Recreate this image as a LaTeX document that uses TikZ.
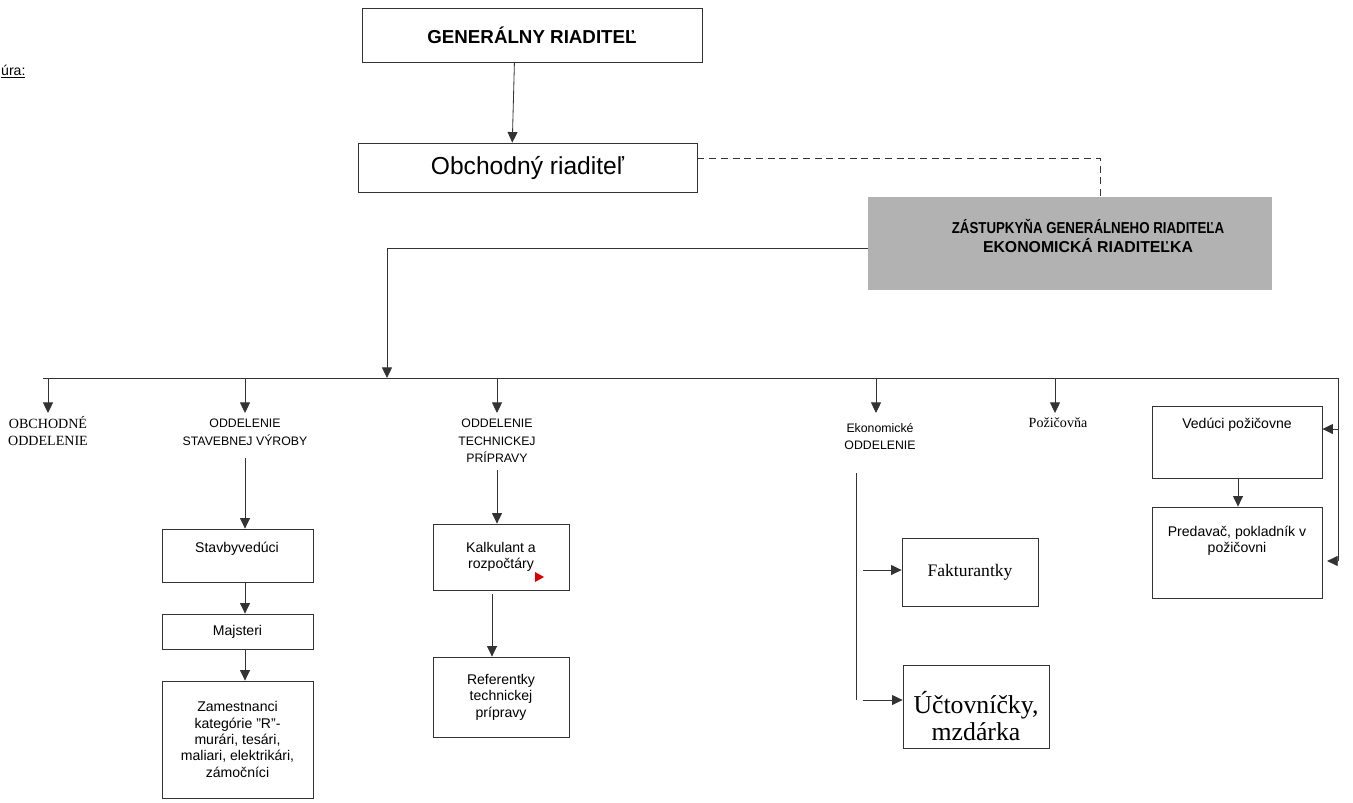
\documentclass[tikz,border=0pt]{standalone}
\usepackage{graphicx}
\usepackage{fontspec}
\setmainfont{Liberation Serif}
\setsansfont{Liberation Sans}
\usetikzlibrary{arrows.meta}

\begin{document}
\begin{tikzpicture}[x=0.03cm, y=-0.03cm,
  line/.style={draw=black!80, line width=0.7pt},
  arr/.style={line, -{Triangle[length=9pt,width=8.5pt]}},
  box/.style 2 args={draw=black!80, line width=0.7pt, inner sep=0pt, align=center,
    minimum width=#1*0.03cm, minimum height=#2*0.03cm,
    font=\sffamily\fontsize{12}{14}\selectfont},
  txt/.style={inner sep=0pt, align=center, font=\sffamily\fontsize{12}{14}\selectfont},
  dept/.style={anchor=north, inner sep=0pt, align=center,
    font=\sffamily\fontsize{10.5}{15}\selectfont},
  ]
  \useasboundingbox (0,0) rectangle (1353,802);
  \node[anchor=west, inner sep=0pt, font=\sffamily\fontsize{12}{14}\selectfont] (nadpis) at (1,72) {\underline{úra:}};

  % vedenie
  \node[box={340}{54}, font=\sffamily\bfseries\fontsize{16}{18}\selectfont] (gr) at (532,35) {GENERÁLNY RIADITEĽ};
  \node[box={339}{49}, font=\sffamily\fontsize{21}{24}\selectfont] (or) at (527.5,167.5) {Obchodný riaditeľ};
  \node[box={404}{93}, draw=none, fill=gray!60] (zast) at (1070,243.5) {};
  \node[txt, font=\sffamily\bfseries\fontsize{13.5}{17}\selectfont] (zastT) at (1088,236)
    {\scalebox{0.84}[1]{ZÁSTUPKYŇA GENERÁLNEHO RIADITEĽA}\\EKONOMICKÁ RIADITEĽKA};
  \draw[arr] ([xshift=-15pt]gr.south) -- ([xshift=-13pt]or.north);
  \draw[line, dashed, dash pattern=on 6pt off 4pt] ([yshift=8pt]or.east) -| (zast.north -| 1100,0);

  % zbernica
  \coordinate (busL) at (43,378);
  \coordinate (busZ) at (387,378);
  \coordinate (busR) at (1338,378);
  \coordinate (busD) at (1338,561);
  \draw[arr] ([yshift=-4pt]zast.west) -| (busZ);
  \draw[line] (busL) -- (busR) -- (busD);

  % oddelenia
  \node[dept, font=\rmfamily\fontsize{12}{15}\selectfont] (obch) at (48,416) {OBCHODNÉ\\ODDELENIE};
  \node[dept] (stavO) at (245,419) {ODDELENIE\\STAVEBNEJ VÝROBY};
  \node[dept] (tech) at (497,419) {ODDELENIE\\TECHNICKEJ\\PRÍPRAVY};
  \node[dept] (ekon) at (880,423) {Ekonomické\\ODDELENIE};
  \node[dept, font=\rmfamily\fontsize{12}{15}\selectfont] (poz) at (1058,417) {Požičovňa};
  \foreach \x/\n in {48/obch, 245/stavO, 497/tech, 876/ekon, 1055/poz}
    \draw[arr] (\x,378) -- (\x,413);

  % stavebna vyroba
  \node[box={151}{53}] (stav) at (237.5,555.5) {};
  \node[txt] (stavT) at (237,549) {Stavbyvedúci};
  \node[box={151}{35}] (maj) at (237.5,631.5) {Majsteri};
  \node[box={151}{117}] (zam) at (237.5,739.5) {Zamestnanci\\kategórie "R"-\\murári, tesári,\\maliari, elektrikári,\\zámočníci};
  \coordinate (stavTop) at (245,458);
  \draw[arr] (stavTop) -- (stav.north -| stavTop);
  \draw[arr] (stav.south -| stavTop) -- (maj.north -| stavTop);
  \draw[arr] (maj.south -| stavTop) -- (zam.north -| stavTop);

  % technicka priprava
  \node[box={136}{66}] (kalk) at (501,557) {Kalkulant a\\rozpočtáry};
  \node[box={136}{80}] (ref) at (501,697) {Referentky\\technickej\\prípravy};
  \fill[red!85!black] (535,572) -- (544,577) -- (535,582) -- cycle;
  \coordinate (techTop) at (497,470);
  \coordinate (techMid) at (492,594);
  \draw[arr] (techTop) -- (kalk.north -| techTop);
  \draw[arr] (techMid) -- (ref.north -| techMid);

  % ekonomicke oddelenie
  \node[box={136}{68}, font=\rmfamily\fontsize{15}{18}\selectfont] (fakt) at (970,572) {Fakturantky};
  \node[box={146}{83}] (uct) at (976,706.5) {};
  \node[txt, font=\rmfamily\fontsize{22}{23}\selectfont] (uctT) at (976,716) {Účtovníčky,\\mzdárka};
  \coordinate (ekTop) at (856,473);
  \coordinate (ekBot) at (856,700);
  \draw[line] (ekTop) -- (ekBot);
  \draw[arr] (863,570) -- (fakt.west |- 0,570);
  \draw[arr] (863,700) -- (uct.west |- 0,700);

  % pozicovna
  \node[box={170}{72}] (ved) at (1237,442) {};
  \node[txt] (vedT) at (1237,425) {Vedúci požičovne};
  \node[box={170}{91}] (pred) at (1237,552.5) {};
  \node[txt] (predT) at (1237,541) {Predavač, pokladník v\\požičovni};
  \draw[arr] (ved.south -| 1238,0) -- (pred.north -| 1238,0);
  \draw[arr] (busR |- 0,429) -- (ved.east |- 0,429);
  \draw[arr] (busD) -- ([xshift=4pt]pred.east |- busD);
\end{tikzpicture}
\end{document}
